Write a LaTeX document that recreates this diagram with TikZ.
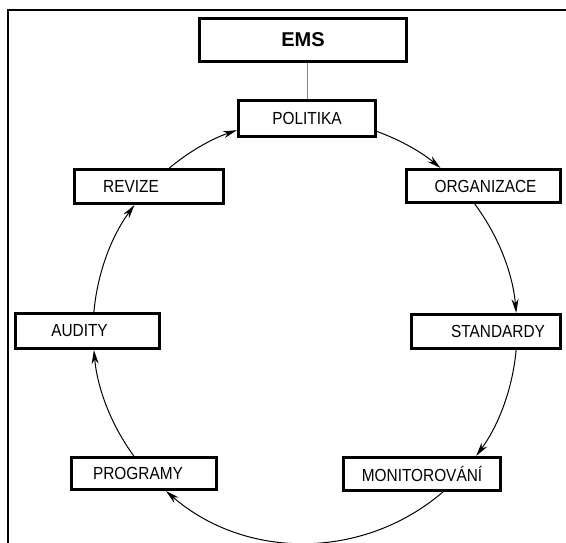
\documentclass[tikz,border=0pt]{standalone}
\usepackage{fontspec}
\setmainfont{Liberation Sans}[FakeStretch=0.88]
\newfontfamily\emsfont{Liberation Sans}
\usetikzlibrary{arrows.meta}
% move a label sideways inside its box without changing the box
\newcommand\txtshift[2]{\kern#1\relax#2\kern-#1\relax}

\begin{document}
\begin{tikzpicture}[x=1pt,y=1pt,
  stage/.style={draw, line width=2.6pt, inner sep=0pt,
    font=\fontsize{17.5}{20}\selectfont},
  flow/.style={line width=1pt, -{Stealth[length=14pt,width=7pt]}, looseness=0.87},
  link/.style={draw=gray, line width=1pt},
]
\useasboundingbox (0,0) rectangle (566,543);
\fill[white] (0,0) rectangle (566,543);
% frame
\draw[line width=1.5pt] (566,533) -- (8,533) -- (8,0);

% boxes
\node[stage, minimum width=207.4, minimum height=43.4,
  font=\emsfont\bfseries\fontsize{20}{24}\selectfont] (ems) at (303,503) {EMS};
\node[stage, minimum width=137.4, minimum height=36.4] (pol) at (307,424.5) {POLITIKA};
\node[stage, minimum width=149.4, minimum height=34.4] (rev) at (149,356.5) {\txtshift{-18pt}{REVIZE}};
\node[stage, minimum width=154.4, minimum height=33.4] (org) at (483.5,357) {\txtshift{2pt}{ORGANIZACE}};
\node[stage, minimum width=144.4, minimum height=35.4] (aud) at (87.5,212) {\txtshift{-8pt}{AUDITY}};
\node[stage, minimum width=149.4, minimum height=34.4] (std) at (486,211.5) {\txtshift{12pt}{STANDARDY}};
\node[stage, minimum width=145.4, minimum height=32.4] (prog) at (144,69.5) {\txtshift{-6pt}{PROGRAMY}};
\node[stage, minimum width=157.4, minimum height=33.4] (mon) at (422,69) {MONITOROVÁNÍ};

% EMS to POLITIKA
\draw[link] (pol.north) -- (pol.north |- ems.south);

% the cycle
\draw[flow] ([yshift=-13]pol.east) to[out=-19.9,in=140.2] ([xshift=-43]org.north);
\draw[flow] ([xshift=-8.8]org.south) to[out=-53.2,in=94.9] ([xshift=30.2]std.north);
\draw[flow] ([xshift=30.1]std.south) to[out=-95.1,in=53.9] ([xshift=54.2]mon.north);
\draw[flow] ([xshift=20.9]mon.south) to[out=-139.4,in=-41,looseness=0.97] ([xshift=21.9]prog.south);
\draw[flow] ([xshift=-10.2]prog.north) to[out=126.1,in=-84.9] ([xshift=6.4]aud.south);
\draw[flow] ([xshift=6.4]aud.north) to[out=84.9,in=-126.5] ([xshift=-14.5]rev.south);
\draw[flow] ([xshift=20.4]rev.north) to[out=39.8,in=198.7] ([yshift=-11.7]pol.west);
\end{tikzpicture}
\end{document}
